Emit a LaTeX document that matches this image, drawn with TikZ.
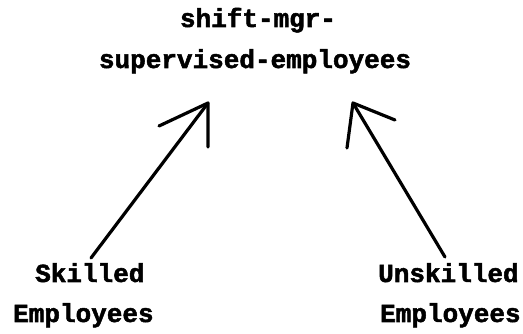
\documentclass[tikz,border=0pt]{standalone}
\usepackage{fontspec}
\newfontfamily\typewr[BoldFeatures={FakeBold=2}]{Liberation Mono}
\begin{document}
\begin{tikzpicture}[x=1pt,y=-1pt,
  lbl/.style={font=\typewr\bfseries\fontsize{26}{26}\selectfont, inner sep=0pt, anchor=base west},
  pen/.style={line width=3.2pt, line cap=round, line join=round}]
\useasboundingbox (0,0) rectangle (523,334);
\node[lbl, anchor=base] (t1) at (258,27) {shift-mgr-};
\node[lbl, anchor=base] (t2) at (255,68) {supervised-employees};
\node[lbl] (s1) at (35,282) {Skilled};
\node[lbl] (s2) at (13,322) {Employees};
\node[lbl] (u1) at (378,282) {Unskilled};
\node[lbl] (u2) at (380,322) {Employees};
% left arrow
\coordinate (ltip) at (208,103);
\coordinate (lbase) at (91,258);
\coordinate (lh1) at (159,126);
\coordinate (lh2) at (208,147);
\draw[pen] (lbase) -- (ltip);
\draw[pen] (lh1) -- (ltip) -- (lh2);
% right arrow
\coordinate (rtip) at (353,103);
\coordinate (rbase) at (445,257);
\coordinate (rh1) at (395,120);
\coordinate (rh2) at (347,148);
\draw[pen] (rbase) -- (rtip);
\draw[pen] (rh1) -- (rtip) -- (rh2);
\end{tikzpicture}
\end{document}
